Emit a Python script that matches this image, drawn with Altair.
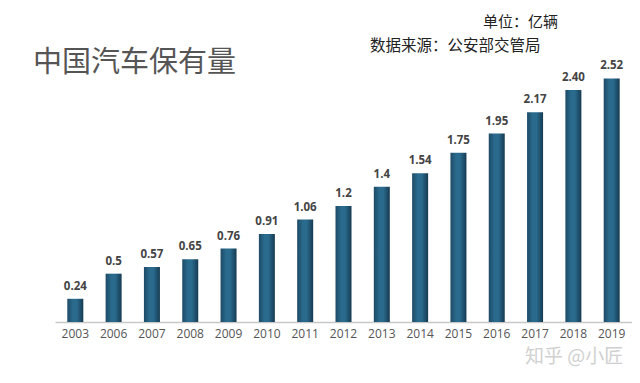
import altair as alt
import pandas as pd

years = ["2003", "2006", "2007", "2008", "2009", "2010", "2011", "2012",
         "2013", "2014", "2015", "2016", "2017", "2018", "2019"]
values = [0.24, 0.5, 0.57, 0.65, 0.76, 0.91, 1.06, 1.2, 1.4, 1.54, 1.75,
          1.95, 2.17, 2.40, 2.52]
labels = ["0.24", "0.5", "0.57", "0.65", "0.76", "0.91", "1.06", "1.2",
          "1.4", "1.54", "1.75", "1.95", "2.17", "2.40", "2.52"]

df = pd.DataFrame({"year": years, "value": values, "label": labels})

FONT = "Noto Sans CJK SC"

xenc = alt.X("year:N", sort=years, title=None,
             scale=alt.Scale(paddingInner=0.58, paddingOuter=0.32),
             axis=alt.Axis(labelAngle=0, labelFontSize=12, labelColor="#555555",
                           labelFont="Open Sans", labelPadding=6,
                           domainColor="#c8c8c8", domainWidth=1.5, ticks=False,
                           grid=False))
yenc = alt.Y("value:Q", scale=alt.Scale(domain=[0, 3.0], nice=False), axis=None)

grad = alt.LinearGradient(
    gradient="linear", x1=0, x2=1, y1=0, y2=0,
    stops=[alt.GradientStop(color="#1d4a66", offset=0),
           alt.GradientStop(color="#2a6a8c", offset=0.35),
           alt.GradientStop(color="#2a6a8c", offset=0.6),
           alt.GradientStop(color="#163a52", offset=1)])

bars = alt.Chart(df).mark_bar(color=grad, size=16).encode(x=xenc, y=yenc)

text = alt.Chart(df).mark_text(dy=-12, fontSize=11.5, fontWeight="bold",
                               color="#444444", font="Open Sans").encode(
    x=alt.X("year:N", sort=years), y=yenc, text="label:N")

ann = pd.DataFrame({"t": ["中国汽车保有量"]})
title = alt.Chart(ann).mark_text(align="left", baseline="middle", fontSize=29,
                                 color="#555555", font=FONT).encode(
    x=alt.value(-22), y=alt.value(31), text="t:N")

unit = alt.Chart(pd.DataFrame({"t": ["单位：亿辆"]})).mark_text(
    align="left", baseline="middle", fontSize=15, color="#222222", font=FONT).encode(
    x=alt.value(428), y=alt.value(-10), text="t:N")

src = alt.Chart(pd.DataFrame({"t": ["数据来源：公安部交管局"]})).mark_text(
    align="left", baseline="middle", fontSize=15.5, color="#222222", font=FONT).encode(
    x=alt.value(315), y=alt.value(14), text="t:N")

wm = alt.Chart(pd.DataFrame({"t": ["知乎 @小匠"]})).mark_text(
    align="left", baseline="middle", fontSize=19, color="#d0d0d0", font=FONT).encode(
    x=alt.value(470), y=alt.value(325), text="t:N")

chart = alt.layer(bars, text, title, unit, src, wm).properties(
    width=577, height=290,
    autosize=alt.AutoSizeParams(type="none"),
    padding={"left": 47, "top": 24, "right": 0, "bottom": 53},
    background="white",
).configure_view(stroke=None)

chart.save("out.html", embed_options={"renderer": "svg", "actions": False})
